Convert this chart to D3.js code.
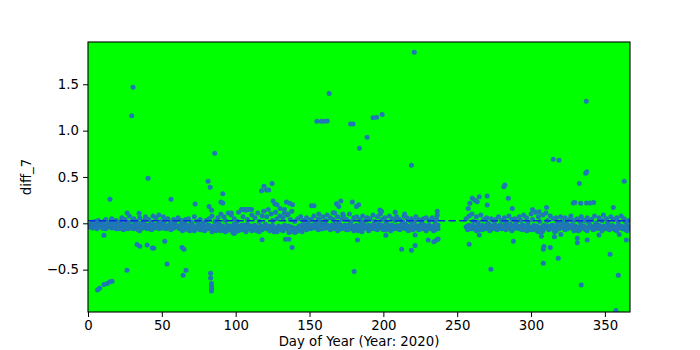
<!DOCTYPE html>
<html>
<head>
<meta charset="utf-8">
<script src="https://cdn.jsdelivr.net/npm/d3@7"></script>
<style>
  body { margin: 0; background: #fff; }
  text { font-family: "DejaVu Sans", sans-serif; fill: #000; }
  .tick text { font-size: 13.3px; }
</style>
</head>
<body>
<div id="chart"></div>
<script>
// DATA: daily diff_7 values, two readings per day (index 0 = day 1), null where no data
const days = d3.range(1, 367);

const readingA = [
  -0.02,-0.03,0.01,-0.04,0.02,-0.01,0.03,-0.02,0.00,-0.05,
  0.02,0.04,-0.03,0.01,-0.02,0.05,0.00,-0.04,0.03,-0.01,
  -0.06,0.02,0.06,-0.02,0.04,-0.05,0.01,0.08,-0.03,0.03,
  0.05,-0.04,0.02,-0.07,0.06,0.00,-0.05,0.03,0.07,-0.02,
  0.04,-0.06,0.01,0.08,-0.03,0.06,-0.01,0.09,0.02,-0.05,
  0.07,0.03,-0.04,0.05,-0.02,0.01,-0.06,0.04,0.02,-0.03,
  0.06,-0.05,0.03,0.00,-0.07,0.04,-0.02,0.05,-0.08,0.01,
  -0.04,0.07,-0.06,0.02,-0.03,0.04,-0.07,0.00,-0.05,0.03,
  -0.02,0.05,-0.06,0.08,-0.04,0.02,-0.08,0.06,-0.01,0.10,
  -0.05,0.07,0.03,-0.08,0.11,-0.03,0.09,-0.06,0.05,-0.09,
  0.02,0.12,-0.04,0.15,0.07,-0.02,0.14,0.04,-0.06,0.15,
  0.09,-0.03,0.06,-0.08,0.11,0.02,-0.05,0.08,0.13,-0.02,
  0.07,0.15,-0.06,0.10,0.03,-0.09,0.12,0.05,-0.04,0.08,
  -0.07,0.06,0.11,-0.03,0.09,-0.10,0.04,0.13,-0.06,0.02,
  -0.09,0.05,-0.04,0.07,-0.02,0.03,-0.05,0.06,0.01,-0.03,
  0.04,-0.02,0.08,0.00,-0.04,0.05,0.02,-0.06,0.07,-0.01,
  0.03,0.09,-0.05,0.06,-0.02,0.04,0.11,-0.03,0.07,0.01,
  -0.06,0.05,0.08,-0.02,0.04,-0.07,0.10,0.02,-0.04,0.06,
  -0.03,0.07,-0.08,0.04,0.01,0.08,-0.05,0.03,0.06,-0.02,
  0.05,-0.06,0.09,0.02,-0.03,0.07,-0.01,0.10,0.04,-0.07,
  0.06,0.01,-0.04,0.08,-0.02,0.05,-0.06,0.03,0.07,-0.03,
  0.04,-0.05,0.02,0.08,-0.01,0.06,-0.04,0.03,0.05,-0.07,
  0.02,0.07,-0.03,0.04,-0.06,0.01,0.05,-0.02,0.06,-0.05,
  0.03,-0.04,0.06,-0.08,0.02,0.05,-0.06,
  null,null,null,null,null,null,null,null,null,null,null,null,null,null,null,null,null,null,
  0.05,-0.03,0.08,-0.06,0.10,
  0.02,-0.04,0.07,0.01,-0.07,0.09,-0.02,0.04,-0.05,0.06,
  0.00,-0.03,0.05,-0.06,0.02,0.04,-0.04,0.07,-0.02,0.03,
  -0.05,0.06,0.01,-0.03,0.08,-0.01,0.04,-0.06,0.05,0.02,
  -0.04,0.07,0.03,-0.02,0.09,-0.05,0.06,0.01,-0.07,0.10,
  0.04,-0.03,0.12,-0.08,0.07,0.02,-0.10,0.09,-0.05,0.11,
  0.03,-0.06,0.08,-0.02,0.05,-0.09,0.06,0.01,-0.04,0.07,
  0.02,-0.03,0.06,0.00,-0.05,0.04,0.08,-0.02,0.03,-0.06,
  0.05,-0.08,0.02,0.07,-0.04,0.03,-0.07,0.06,0.01,-0.03,
  0.04,-0.05,0.08,0.00,-0.02,0.06,-0.06,0.03,0.09,-0.04,
  0.05,0.01,-0.05,0.07,-0.02,0.04,-0.07,0.06,0.02,-0.03,
  0.08,-0.04,0.05,0.02,-0.08,0.03
];

const readingB = [
  -0.04,-0.01,-0.05,-0.02,-0.03,-0.06,-0.01,-0.04,-0.02,-0.05,
  -0.03,-0.06,-0.02,-0.04,-0.01,-0.05,-0.03,-0.02,-0.06,-0.04,
  -0.02,-0.05,-0.03,-0.07,-0.01,-0.04,-0.06,-0.02,-0.05,-0.03,
  -0.06,-0.01,-0.04,-0.03,-0.08,-0.02,-0.05,-0.01,-0.04,-0.06,
  -0.02,-0.03,-0.07,-0.01,-0.05,-0.04,-0.02,-0.06,-0.03,-0.01,
  -0.05,-0.02,-0.06,-0.03,-0.04,-0.07,-0.01,-0.05,-0.02,-0.04,
  -0.03,-0.06,-0.02,-0.08,-0.04,-0.01,-0.05,-0.07,-0.03,-0.06,
  -0.02,-0.08,-0.04,-0.06,-0.01,-0.07,-0.05,-0.03,-0.08,-0.04,
  -0.06,-0.02,-0.05,-0.09,-0.03,-0.07,-0.04,-0.01,-0.06,-0.08,
  -0.03,-0.06,-0.09,-0.02,-0.05,-0.07,-0.04,-0.10,-0.01,-0.06,
  -0.03,-0.08,-0.05,-0.02,-0.07,-0.04,-0.09,-0.01,-0.06,-0.03,
  -0.08,-0.05,-0.02,-0.06,-0.04,-0.09,-0.03,-0.07,-0.05,-0.01,
  -0.06,-0.03,-0.08,-0.04,-0.02,-0.07,-0.05,-0.09,-0.03,-0.06,
  -0.04,-0.08,-0.02,-0.06,-0.05,-0.03,-0.09,-0.04,-0.07,-0.10,
  -0.05,-0.08,-0.03,-0.06,-0.09,-0.04,-0.02,-0.07,-0.05,-0.03,
  -0.06,-0.04,-0.02,-0.05,-0.03,-0.07,-0.04,-0.02,-0.06,-0.03,
  -0.05,-0.02,-0.04,-0.07,-0.03,-0.06,-0.01,-0.05,-0.08,-0.04,
  -0.02,-0.06,-0.03,-0.05,-0.07,-0.02,-0.04,-0.06,-0.03,-0.08,
  -0.05,-0.02,-0.04,-0.07,-0.03,-0.06,-0.02,-0.05,-0.04,-0.08,
  -0.03,-0.05,-0.02,-0.06,-0.04,-0.07,-0.03,-0.05,-0.02,-0.06,
  -0.04,-0.07,-0.03,-0.05,-0.08,-0.02,-0.04,-0.06,-0.03,-0.05,
  -0.07,-0.02,-0.05,-0.04,-0.06,-0.03,-0.08,-0.05,-0.02,-0.04,
  -0.06,-0.03,-0.05,-0.07,-0.02,-0.04,-0.06,-0.03,-0.08,-0.05,
  -0.02,-0.06,-0.04,-0.03,-0.07,-0.05,-0.02,
  null,null,null,null,null,null,null,null,null,null,null,null,null,null,null,null,null,null,
  -0.04,-0.07,-0.02,-0.05,-0.03,
  -0.06,-0.04,-0.08,-0.02,-0.05,-0.03,-0.07,-0.04,-0.06,-0.02,
  -0.05,-0.08,-0.03,-0.06,-0.04,-0.02,-0.07,-0.05,-0.03,-0.06,
  -0.04,-0.02,-0.07,-0.05,-0.03,-0.06,-0.08,-0.04,-0.02,-0.05,
  -0.03,-0.06,-0.04,-0.07,-0.02,-0.05,-0.08,-0.03,-0.06,-0.04,
  -0.07,-0.02,-0.05,-0.03,-0.09,-0.06,-0.04,-0.08,-0.02,-0.05,
  -0.03,-0.07,-0.04,-0.06,-0.02,-0.05,-0.08,-0.03,-0.06,-0.04,
  -0.02,-0.05,-0.07,-0.03,-0.06,-0.04,-0.02,-0.05,-0.08,-0.03,
  -0.06,-0.04,-0.07,-0.02,-0.05,-0.03,-0.06,-0.08,-0.04,-0.02,
  -0.05,-0.07,-0.03,-0.06,-0.04,-0.02,-0.05,-0.08,-0.03,-0.06,
  -0.04,-0.02,-0.07,-0.05,-0.03,-0.06,-0.04,-0.08,-0.02,-0.05,
  -0.03,-0.06,-0.04,-0.07,-0.02,-0.05
];

// scattered readings away from the main band: [day, diff_7]
const outliers = [
  [6.4,-0.72],[7.9,-0.70],[10.8,-0.66],[13.1,-0.65],[14.9,-0.63],[16.3,-0.625],
  [10.8,-0.13],[14.9,0.26],[26.4,-0.507],[26.5,0.11],[29.6,1.16],[30.5,1.467],
  [33.2,-0.23],[35,-0.248],[34.6,0.108],[40,-0.234],[40.7,0.485],[43.6,-0.266],[44.5,-0.27],
  [52,-0.194],[53.5,-0.44],[56.2,0.26],[63.7,-0.26],[65,-0.28],[64.4,-0.56],[66.4,-0.507],
  [72.5,0.208],[81.3,0.453],[82.7,0.388],[82,0.18],[83.7,0.14],[83,-0.54],[83,-0.59],
  [83.6,-0.65],[83.6,-0.68],[83.6,-0.71],[83.6,-0.73],[85.8,0.755],
  [90,0.23],[91.3,0.22],[91.3,0.32],
  [97,0.11],[99,-0.11],[104,0.15],[105.5,0.15],[107,0.15],[108.5,0.15],[110.7,0.15],
  [117.5,0.35],[119.2,0.40],[120.9,0.36],[122.4,0.36],[124.7,0.43],[117.9,-0.177],
  [125.3,0.24],[126.5,0.21],[128,0.20],[130,0.16],[133,0.15],
  [133.7,-0.173],[136,-0.173],[134.4,0.23],[135.5,0.1],[136.6,0.215],[138.5,0.20],[138.2,-0.26],
  [151.3,0.19],[153,0.19],[156.3,0.1],
  [155,1.10],[158,1.10],[160,1.10],[162,1.105],[163.3,1.40],
  [166,0.115],[168.3,0.21],[169.8,0.18],[171.2,0.24],[172.5,0.1],[169.4,-0.07],
  [177.8,1.07],[179.5,1.07],[179,0.23],[181.8,0.18],[183.2,0.2],[182.5,-0.18],[180.2,-0.52],
  [183.8,0.81],[189,0.928],[193,1.14],[195.4,1.145],[199.2,1.175],
  [185.6,-0.09],[197.6,0.143],[198.8,0.13],[201.7,-0.13],[208,0.12],[212.3,-0.28],[214.4,0.10],
  [219,0.626],[219,-0.29],[220.9,1.845],[221.5,-0.24],[221.5,-0.125],[230.4,-0.18],
  [234.2,-0.2],[236,-0.18],[237.1,-0.17],[236.5,0.13],[236.5,0.09],
  [257.5,0.16],[258.6,0.215],[260.2,0.27],[262,0.25],[263.5,0.233],[264.9,0.287],
  [270.3,0.295],[270.3,0.197],[258.1,-0.227],[265,-0.125],[272.8,-0.497],
  [281.6,0.395],[282.3,0.413],[284.6,0.27],[287.3,0.16],[288,-0.194],
  [301,0.15],[305.5,0.125],[310.5,0.17],[307,-0.14],[308.7,-0.25],[308.3,-0.28],[308.3,-0.43],[313,-0.26],
  [315,0.69],[318.9,0.68],[315.8,-0.144],[318.4,-0.378],[320.2,-0.12],
  [328.6,0.22],[329.7,0.225],[332.7,0.43],[333.6,0.215],[331.3,-0.16],[331.3,-0.21],[334,-0.666],
  [337,0.54],[337.7,0.557],[337.4,1.316],[337.6,0.22],[340,0.22],[342.4,0.225],[338,-0.18],
  [346,-0.125],[353.5,-0.335],[355.7,0.17],[357.5,-0.94],[359.1,-0.56],[359.7,-0.12],
  [363.1,0.453],[364.5,-0.18]
];

const meanLine = 0.028;
const xTicks = [0, 50, 100, 150, 200, 250, 300, 350];
const yTicks = [-0.5, 0.0, 0.5, 1.0, 1.5];

// SETUP
const margin = { top: 42, right: 70, bottom: 38, left: 88 },
      width = 700 - margin.left - margin.right,
      height = 350 - margin.top - margin.bottom;

const svgRoot = d3.select("#chart")
  .append("svg")
    .attr("width", 700)
    .attr("height", 350);

const svg = svgRoot.append("g")
    .attr("transform", `translate(${margin.left},${margin.top})`);

svgRoot.append("defs").append("clipPath")
    .attr("id", "plotClip")
  .append("rect")
    .attr("width", width)
    .attr("height", height);

// SCALES
const x = d3.scaleLinear().domain([0, 367]).range([0, width]);
const y = d3.scaleLinear().domain([-0.957, 1.956]).range([height, 0]);

// background
svg.append("rect")
    .attr("width", width)
    .attr("height", height)
    .attr("fill", "#00ff00");

// points
const points = [];
days.forEach((d, i) => {
  if (readingA[i] != null) points.push([d, readingA[i]]);
  if (readingB[i] != null) points.push([d, readingB[i]]);
});
outliers.forEach(p => points.push(p));

const plot = svg.append("g").attr("clip-path", "url(#plotClip)");

plot.selectAll("circle")
  .data(points)
  .join("circle")
    .attr("cx", d => x(d[0]))
    .attr("cy", d => y(d[1]))
    .attr("r", 2.5)
    .attr("fill", "#1f77b4");

// dashed reference line
plot.append("line")
    .attr("x1", 0)
    .attr("x2", width)
    .attr("y1", y(meanLine))
    .attr("y2", y(meanLine))
    .attr("stroke", "#0a2ad8")
    .attr("stroke-width", 1.5)
    .attr("stroke-dasharray", "7.4,3.2");

// AXES
svg.append("g")
    .attr("transform", `translate(0,${height})`)
    .call(d3.axisBottom(x).tickValues(xTicks).tickSize(5).tickPadding(4).tickFormat(d3.format("d")))
    .call(g => g.select(".domain").remove());

svg.append("g")
    .call(d3.axisLeft(y).tickValues(yTicks).tickSize(5).tickPadding(4).tickFormat(d3.format(".1f")))
    .call(g => g.select(".domain").remove());

svg.selectAll(".tick line").attr("stroke", "#000").attr("stroke-width", 1);
svg.selectAll(".tick text").attr("font-family", null).attr("font-size", null);

// frame
svg.append("rect")
    .attr("width", width)
    .attr("height", height)
    .attr("fill", "none")
    .attr("stroke", "#000")
    .attr("stroke-width", 1.1);

// LABELS
svg.append("text")
    .attr("x", width / 2)
    .attr("y", height + 34)
    .attr("text-anchor", "middle")
    .style("font-size", "13.3px")
    .text("Day of Year (Year: 2020)");

svg.append("text")
    .attr("transform", "rotate(-90)")
    .attr("x", -height / 2)
    .attr("y", 31 - margin.left)
    .attr("text-anchor", "middle")
    .style("font-size", "13.3px")
    .text("diff_7");
</script>
</body>
</html>
